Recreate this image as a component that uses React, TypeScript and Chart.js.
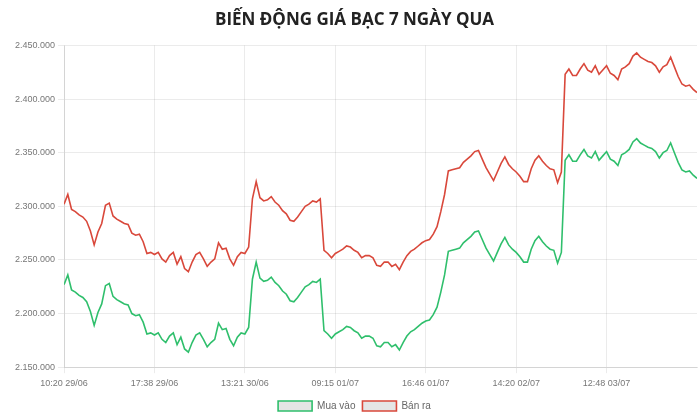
import React, { useEffect, useRef } from 'react';
import { Chart, registerables } from 'chart.js';

Chart.register(...registerables);

const TITLE = 'BIẾN ĐỘNG GIÁ BẠC 7 NGÀY QUA';
const seriesNames = ['Mua vào', 'Bán ra'];
const tickLabels = ['10:20 29/06', '17:38 29/06', '13:21 30/06', '09:15 01/07', '16:46 01/07', '14:20 02/07', '12:48 03/07'];
const POINTS_PER_TICK = 24;

const buyPrices = [
  2227000, 2236000, 2222000, 2220000, 2217000, 2215000, 2211000, 2202000, 2189000, 2201000,
  2209000, 2226000, 2228000, 2216000, 2213000, 2211000, 2209000, 2208000, 2200000, 2198000,
  2199000, 2192000, 2181000, 2182000, 2180000, 2182000, 2176000, 2173000, 2179000, 2182000,
  2171000, 2178000, 2167000, 2164000, 2173000, 2180000, 2182000, 2176000, 2169000, 2173000,
  2176000, 2191000, 2185000, 2186000, 2176000, 2170000, 2178000, 2182000, 2181000, 2187000,
  2232000, 2248000, 2233000, 2230000, 2231000, 2234000, 2229000, 2226000, 2221000, 2218000,
  2212000, 2211000, 2215000, 2220000, 2225000, 2227000, 2230000, 2229000, 2232000, 2184000,
  2181000, 2177000, 2181000, 2183000, 2185000, 2188000, 2187000, 2184000, 2182000, 2177000,
  2179000, 2179000, 2177000, 2170000, 2169000, 2173000, 2173000, 2169000, 2171000, 2166000,
  2173000, 2179000, 2183000, 2185000, 2188000, 2191000, 2193000, 2194000, 2199000, 2206000,
  2220000, 2236000, 2258000, 2259000, 2260000, 2261000, 2266000, 2269000, 2272000, 2276000,
  2277000, 2269000, 2261000, 2255000, 2249000, 2257000, 2265000, 2271000, 2264000, 2260000,
  2257000, 2253000, 2248000, 2248000, 2260000, 2268000, 2272000, 2267000, 2263000, 2260000,
  2259000, 2247000, 2257000, 2343000, 2348000, 2342000, 2342000, 2348000, 2353000, 2347000,
  2345000, 2351000, 2343000, 2347000, 2351000, 2344000, 2342000, 2338000, 2348000, 2350000,
  2353000, 2360000, 2363000, 2359000, 2357000, 2355000, 2354000, 2351000, 2345000, 2350000,
  2352000, 2359000, 2350000, 2341000, 2334000, 2332000, 2333000, 2329000, 2326000,
];

const sellPrices = [
  2302000, 2311000, 2297000, 2295000, 2292000, 2290000, 2286000, 2277000, 2264000, 2276000,
  2284000, 2301000, 2303000, 2291000, 2288000, 2286000, 2284000, 2283000, 2275000, 2273000,
  2274000, 2267000, 2256000, 2257000, 2255000, 2257000, 2251000, 2248000, 2254000, 2257000,
  2246000, 2253000, 2242000, 2239000, 2248000, 2255000, 2257000, 2251000, 2244000, 2248000,
  2251000, 2266000, 2260000, 2261000, 2251000, 2245000, 2253000, 2257000, 2256000, 2262000,
  2307000, 2323000, 2308000, 2305000, 2306000, 2309000, 2304000, 2301000, 2296000, 2293000,
  2287000, 2286000, 2290000, 2295000, 2300000, 2302000, 2305000, 2304000, 2307000, 2259000,
  2256000, 2252000, 2256000, 2258000, 2260000, 2263000, 2262000, 2259000, 2257000, 2252000,
  2254000, 2254000, 2252000, 2245000, 2244000, 2248000, 2248000, 2244000, 2246000, 2241000,
  2248000, 2254000, 2258000, 2260000, 2263000, 2266000, 2268000, 2269000, 2274000, 2281000,
  2295000, 2311000, 2333000, 2334000, 2335000, 2336000, 2341000, 2344000, 2347000, 2351000,
  2352000, 2344000, 2336000, 2330000, 2324000, 2332000, 2340000, 2346000, 2339000, 2335000,
  2332000, 2328000, 2323000, 2323000, 2335000, 2343000, 2347000, 2342000, 2338000, 2335000,
  2334000, 2322000, 2332000, 2423000, 2428000, 2422000, 2422000, 2428000, 2433000, 2427000,
  2425000, 2431000, 2423000, 2427000, 2431000, 2424000, 2422000, 2418000, 2428000, 2430000,
  2433000, 2440000, 2443000, 2439000, 2437000, 2435000, 2434000, 2431000, 2425000, 2430000,
  2432000, 2439000, 2430000, 2421000, 2414000, 2412000, 2413000, 2409000, 2406000,
];

const Y_MIN = 2150000;
const Y_MAX = 2450000;
const Y_STEP = 50000;

const GREEN = '#2fbf6c';
const RED = '#d9483b';

function formatVnd(v: number): string {
  return Math.round(v).toString().replace(/\B(?=(\d{3})+(?!\d))/g, '.');
}

export default function App() {
  const canvasRef = useRef<HTMLCanvasElement | null>(null);

  useEffect(() => {
    if (!canvasRef.current) return;
    const toPoints = (arr: number[]) => arr.map((v, i) => ({ x: i, y: v }));
    const lastIndex = buyPrices.length - 1;
    const chart = new Chart(canvasRef.current, {
      type: 'line',
      data: {
        datasets: [
          {
            label: seriesNames[0],
            data: toPoints(buyPrices),
            borderColor: GREEN,
            backgroundColor: 'rgba(0,0,0,0.1)',
            borderWidth: 1.6,
            pointRadius: 0,
            tension: 0,
          },
          {
            label: seriesNames[1],
            data: toPoints(sellPrices),
            borderColor: RED,
            backgroundColor: 'rgba(0,0,0,0.1)',
            borderWidth: 1.6,
            pointRadius: 0,
            tension: 0,
          },
        ],
      },
      options: {
        animation: false,
        responsive: true,
        maintainAspectRatio: false,
        layout: { padding: { left: 12, right: 3, top: 0, bottom: 0 } },
        plugins: {
          title: {
            display: true,
            text: TITLE,
            color: '#222',
            font: { family: "'Open Sans', sans-serif", size: 17, weight: 'bold' },
            padding: { top: 10, bottom: 15 },
          },
          legend: {
            position: 'bottom',
            labels: {
              boxWidth: 34,
              boxHeight: 10,
              padding: 7,
              color: '#666',
              font: { family: "Arial, 'Liberation Sans', sans-serif", size: 10 },
            },
          },
          tooltip: { enabled: false },
        },
        scales: {
          x: {
            type: 'linear',
            min: 0,
            max: lastIndex,
            grid: { color: 'rgba(0,0,0,0.08)', tickLength: 6 },
            ticks: {
              stepSize: POINTS_PER_TICK,
              autoSkip: false,
              maxRotation: 0,
              padding: 5,
              color: '#777',
              font: { family: "Arial, 'Liberation Sans', sans-serif", size: 9 },
              callback: (value: any) => {
                const idx = Math.round(Number(value) / POINTS_PER_TICK);
                return idx < tickLabels.length ? tickLabels[idx] : null;
              },
            },
          },
          y: {
            min: Y_MIN,
            max: Y_MAX,
            grid: { color: 'rgba(0,0,0,0.08)', tickLength: 6 },
            ticks: {
              stepSize: Y_STEP,
              padding: 3,
              color: '#777',
              font: { family: "Arial, 'Liberation Sans', sans-serif", size: 9 },
              callback: (value: any) => formatVnd(Number(value)),
            },
          },
        },
      },
    });
    return () => chart.destroy();
  }, []);

  return (
    <div style={{ position: 'absolute', left: 0, top: 0, width: 700, height: 415, overflow: 'hidden', background: '#fff' }}>
      <div style={{ position: 'absolute', left: 0, top: 0, width: 700, height: 421 }}>
        <canvas ref={canvasRef} />
      </div>
    </div>
  );
}
